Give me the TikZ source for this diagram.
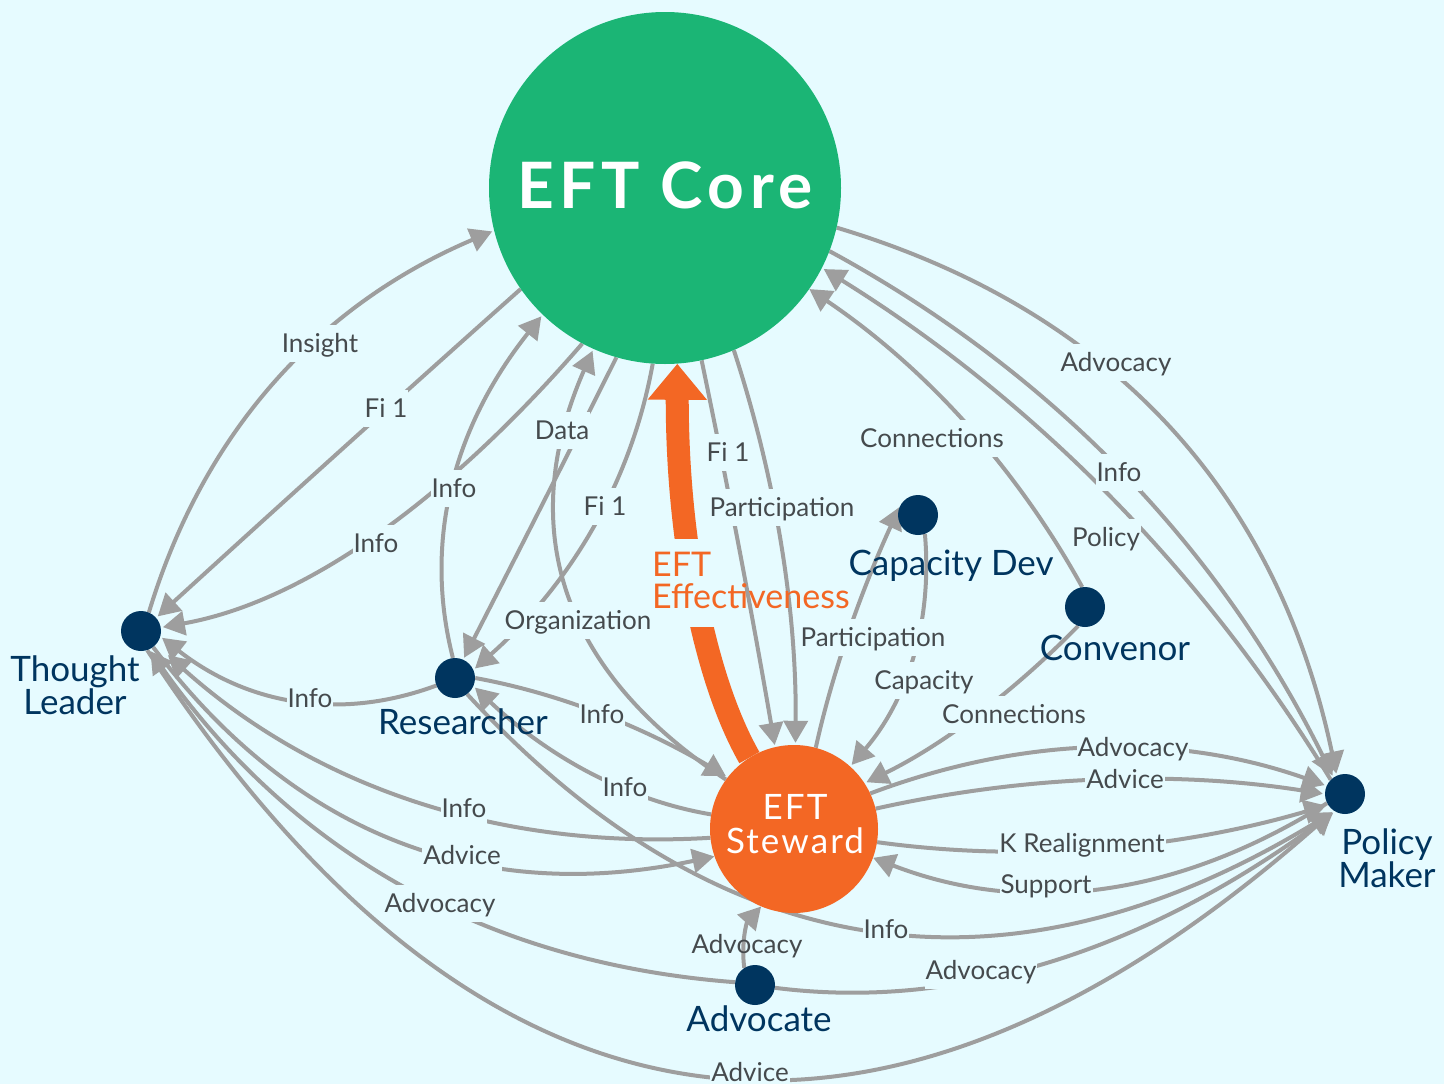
\documentclass[tikz,border=0pt]{standalone}
\usepackage{fontspec}
\setmainfont{Lato}
\usetikzlibrary{arrows.meta,calc}
\definecolor{bgc}{HTML}{E6FBFF}
\definecolor{greenc}{HTML}{1BB575}
\definecolor{navyc}{HTML}{00355F}
\definecolor{orangec}{HTML}{F36724}
\definecolor{linec}{HTML}{9E9E9E}
\definecolor{textc}{HTML}{454A4D}
\pgfdeclarelayer{labs}
\pgfdeclarelayer{dots}
\pgfsetlayers{main,labs,dots}
\newcounter{edgeno}
\tikzset{
  edgeline/.style={draw=linec,line width=4pt,-{Triangle[length=22pt,width=24pt,fill=linec]}},
  edgelab/.style={fill=bgc,text=textc,font=\fontsize{26}{26}\selectfont,inner xsep=1pt,inner ysep=6pt,text height=22pt,text depth=3pt},
  dot/.style={circle,fill=navyc,minimum size=40pt,inner sep=0pt},
  actor/.style={text=navyc,font=\fontsize{35}{33}\selectfont,align=center,inner sep=0pt}
}
% #1 shorten, #2 from, #3 to, #4 point at mid-curve, #5 label point, #6 label
\newcommand{\edgearc}[6][2pt]{%
  \stepcounter{edgeno}%
  \coordinate (mm) at (#4);
  \coordinate (cc) at ($2*(mm)-0.5*(#2)-0.5*(#3)$);
  \draw[edgeline,shorten >=#1] (#2) .. controls ($(#2)!0.667!(cc)$) and ($(#3)!0.667!(cc)$) .. (#3);
  \begin{pgfonlayer}{labs}
    \node[edgelab] (lab\arabic{edgeno}) at (#5) {#6};
  \end{pgfonlayer}
}
\begin{document}
\begin{tikzpicture}[x=1pt,y=-1pt]
\useasboundingbox (0,0) rectangle (1444,1084);
\fill[bgc] (0,0) rectangle (1444,1084);
\begin{pgfonlayer}{dots}
\node[circle,fill=greenc,minimum size=352pt,inner sep=0pt] (C) at (665,188) {};
\node[circle,fill=orangec,minimum size=168pt,inner sep=0pt] (S) at (794,829) {};
\node[dot] (T) at (141,631) {};
\node[dot] (R) at (455,678) {};
\node[dot] (D) at (918,515) {};
\node[dot] (V) at (1085,607) {};
\node[dot] (P) at (1345,794) {};
\node[dot] (A) at (755,985) {};
\node[text=white,font=\fontsize{64}{64}\bfseries\selectfont\addfontfeatures{LetterSpace=8.5}] (Cl) at (665,185) {EFT Core};
\node[text=white,align=center,font=\fontsize{35}{34}\selectfont\addfontfeatures{LetterSpace=6}] (Sl) at (795,824) {EFT\\Steward};
\node[actor] (Tl) at (75,685) {Thought\\Leader};
\node[actor] (Rl) at (463,722) {Researcher};
\node[actor] (Dl) at (951,566) {Capacity Dev};
\node[actor] (Vl) at (1115,648) {Convenor};
\node[actor] (Pl) at (1387,858) {Policy\\Maker};
\node[actor] (Al) at (759,1019) {Advocate};
\end{pgfonlayer}
% main flow
\draw[draw=orangec,line width=23pt,-{Triangle[length=36pt,width=57pt,fill=orangec]}] (S.122) .. controls (705,680) and (677,540) .. (C.274);
\begin{pgfonlayer}{labs}
\node[text=orangec,font=\fontsize{34}{32}\selectfont,align=left,inner xsep=2pt,inner ysep=10pt,anchor=west] (flow) at (650,580) {EFT\\Effectiveness};
\end{pgfonlayer}
\fill[bgc] (flow.west |- 0,539) rectangle (flow.east |- 0,627);
% connectors
\edgearc{T.67}{C.194}{276,382}{320,343}{Insight}
\edgearc{C.215}{T.41}{340,451}{386,408}{Fi 1}
\edgearc{C.242}{T.10}{370,538}{376,543}{Info}
\edgearc{R.96}{C.226}{453,485}{454,488}{Info}
\edgearc{C.254}{R.66}{540,509}{562,430}{Data}
\edgearc{C.266}{R.24}{592,528}{605,506}{Fi 1}
\edgearc{S.144}{C.246}{568,590}{578,620}{Organization}
\edgearc{C.282}{S.103}{740,553}{728,452}{Fi 1}
\edgearc{C.293}{S.89}{781,546}{782,507}{Participation}
\edgearc{C.347}{P.114}{1167,426}{1116,362}{Advocacy}
\edgearc{C.339}{P.125}{1122,473}{1119,472}{Info}
\edgearc{P.135}{C.333}{1107,494}{1106,537}{Policy}
\edgearc[0pt]{V.98}{C.325}{964,422}{932,438}{Connections}
\edgearc{S.75}{D.151}{849,632}{873,637}{Participation}
\edgearc{D.290}{S.48}{912,658}{924,680}{Capacity}
\edgearc{V.250}{S.33}{975,716}{1014,714}{Connections}
\edgearc{S.25}{P.156}{1100,748}{1133,747}{Advocacy}
\edgearc{S.14}{P.180}{1100,780}{1125,779}{Advice}
\edgearc{S.351}{P.213}{1100,848}{1082,843}{K Realignment}
\edgearc[0pt]{P.207}{S.340}{1100,888}{1046,884}{Support}
\edgearc{R.0}{S.142}{600,714}{602,714}{Info}
\edgearc{S.170}{R.336}{590,772}{625,787}{Info}
\edgearc[16pt]{S.186}{T.318}{413,799}{464,808}{Info}
\edgearc[0pt]{T.307}{S.199}{400,841}{462,855}{Advice}
\edgearc{A.172}{T.294}{403,885}{440,903}{Advocacy}
\begin{scope}[edgelab/.append style={inner ysep=1pt,text height=19pt,text depth=0pt}]
\edgearc{T.288}{P.236}{694,1073}{750,1072}{Advice}
\end{scope}
\edgearc{A.352}{P.240}{1050,961}{981,970}{Advocacy}
\edgearc{R.307}{P.238}{874,930}{886,929}{Info}
\begin{scope}[edgelab/.append style={fill=none}]
\edgearc[0pt]{A.122}{S.247}{746,934}{747,944}{Advocacy}
\end{scope}
\edgearc{R.202}{T.344}{295,700}{310,698}{Info}
\end{tikzpicture}
\end{document}
